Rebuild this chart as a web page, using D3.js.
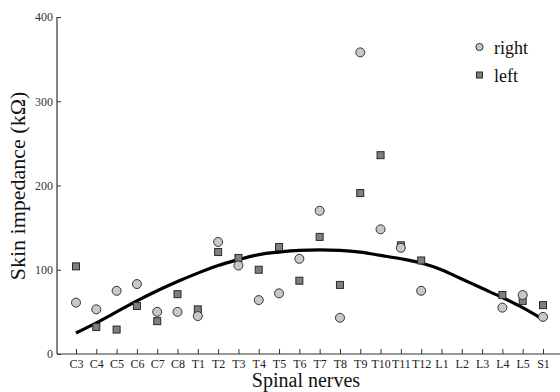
<!DOCTYPE html>
<html>
<head>
<meta charset="utf-8">
<script src="https://cdn.jsdelivr.net/npm/d3@7"></script>
<style>
  body { margin: 0; background: #fff; }
  svg { display: block; }
  text { font-family: "Liberation Serif", "Times New Roman", serif; }
</style>
</head>
<body>
<svg id="chart" width="560" height="392"></svg>
<script>
const categories = ["C3","C4","C5","C6","C7","C8","T1","T2","T3","T4","T5","T6","T7","T8","T9","T10","T11","T12","L1","L2","L3","L4","L5","S1"];
const rightValues = [61, 53, 75, 83, 50, 50, 45, 133, 105, 64, 72, 113, 170, 43, 358, 148, 126, 75, null, null, null, 55, 70, 44];
const leftValues  = [104, 32, 29, 57, 39, 71, 53, 121, 114, 100, 127, 87, 139, 82, 191, 236, 129, 111, null, null, null, 70, 63, 58];
const fitValues   = [25, 37, 50, 63, 75, 86, 96, 105, 112, 118, 121, 123, 123.5, 123, 121, 117, 113, 108, 100, 89, 78, 67, 55, 41];
const yTicks = [0, 100, 200, 300, 400];

const serif = '"Liberation Serif", "Times New Roman", serif';
const svg = d3.select("#chart");
const x = d3.scalePoint().domain(categories).range([76, 543]);
const y = d3.scaleLinear().domain([0, 400]).range([354, 17]);
const axisColor = "#333";

// x axis
const xAxis = svg.append("g").attr("transform", "translate(0,354)")
  .call(d3.axisBottom(x).tickSize(-5).tickPadding(5));
xAxis.attr("font-family", null);
xAxis.select(".domain").remove();
xAxis.append("line").attr("x1", 57).attr("x2", 560).attr("y1", 0).attr("y2", 0)
  .attr("stroke", axisColor).attr("stroke-width", 1.2);
xAxis.selectAll(".tick line").attr("stroke", axisColor);
xAxis.selectAll(".tick text").attr("font-size", 12).attr("fill", "#222")
  .style("font-family", serif);

// y axis
const yAxis = svg.append("g").attr("transform", "translate(57,0)")
  .call(d3.axisLeft(y).tickValues(yTicks).tickSize(-4).tickPadding(4));
yAxis.attr("font-family", null);
yAxis.select(".domain").remove();
yAxis.append("line").attr("x1", 0).attr("x2", 0).attr("y1", y(400)).attr("y2", y(0))
  .attr("stroke", axisColor).attr("stroke-width", 1.2);
yAxis.selectAll(".tick line").attr("stroke", axisColor);
yAxis.selectAll(".tick text").attr("font-size", 12).attr("fill", "#333")
  .style("font-family", serif);

// axis titles
svg.append("text").attr("x", 306).attr("y", 387).attr("text-anchor", "middle")
  .attr("font-size", 20).attr("fill", "#111").style("font-family", serif).text("Spinal nerves");
svg.append("text").attr("transform", "translate(25,186) rotate(-90)")
  .attr("text-anchor", "middle").attr("font-size", 22).attr("fill", "#111")
  .style("font-family", serif).text("Skin impedance (kΩ)");

// fit curve
const line = d3.line().x((d, i) => x(categories[i])).y(d => y(d)).curve(d3.curveMonotoneX);
svg.append("path").datum(fitValues).attr("d", line)
  .attr("fill", "none").attr("stroke", "#000").attr("stroke-width", 3.2);

// squares (left)
const sq = 7;
svg.append("g").selectAll("rect")
  .data(categories.map((c, i) => ({c, v: leftValues[i]})).filter(d => d.v != null))
  .join("rect")
  .attr("x", d => x(d.c) - sq / 2).attr("y", d => y(d.v) - sq / 2)
  .attr("width", sq).attr("height", sq)
  .attr("fill", "#7f7f7f").attr("stroke", "#2a2a2a").attr("stroke-width", 1);

// circles (right)
svg.append("g").selectAll("circle")
  .data(categories.map((c, i) => ({c, v: rightValues[i]})).filter(d => d.v != null))
  .join("circle")
  .attr("cx", d => x(d.c)).attr("cy", d => y(d.v)).attr("r", 4.5)
  .attr("fill", "#c8c8c8").attr("stroke", "#333").attr("stroke-width", 1);

// legend
const lg = svg.append("g");
lg.append("circle").attr("cx", 479.5).attr("cy", 47).attr("r", 3.6)
  .attr("fill", "#c8c8c8").attr("stroke", "#333").attr("stroke-width", 1);
lg.append("text").attr("x", 494).attr("y", 54).attr("font-size", 18).attr("fill", "#111")
  .style("font-family", serif).text("right");
lg.append("rect").attr("x", 476.5).attr("y", 72).attr("width", 6).attr("height", 6)
  .attr("fill", "#7f7f7f").attr("stroke", "#2a2a2a").attr("stroke-width", 1);
lg.append("text").attr("x", 494).attr("y", 82).attr("font-size", 18).attr("fill", "#111")
  .style("font-family", serif).text("left");
</script>
</body>
</html>
